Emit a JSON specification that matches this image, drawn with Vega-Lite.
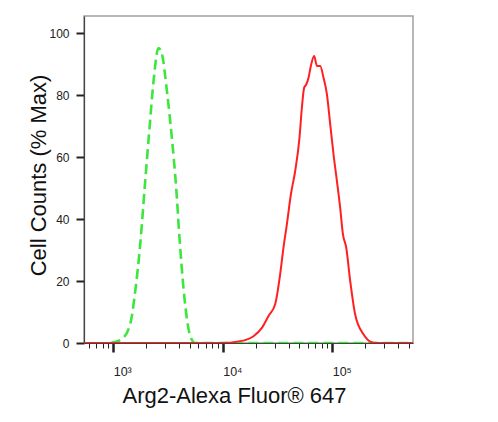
{
  "$schema": "https://vega.github.io/schema/vega-lite/v6.json",
  "description": "Flow cytometry histogram: Arg2-Alexa Fluor 647 stained cells (red) vs isotype control (green dashed).",
  "width": 329,
  "height": 327,
  "autosize": {"type": "none"},
  "padding": {"left": 84, "top": 16, "right": 85, "bottom": 79},
  "background": "white",
  "config": {
    "view": {"stroke": "#a0a0a0", "strokeWidth": 1.5},
    "axis": {"grid": false}
  },
  "datasets": {
    "control": [
      {"intensity": 950, "percent_max": 0},
      {"intensity": 1200, "percent_max": 1.3},
      {"intensity": 1430, "percent_max": 6.1},
      {"intensity": 1590, "percent_max": 16.8},
      {"intensity": 1765, "percent_max": 31.9},
      {"intensity": 1960, "percent_max": 52.3},
      {"intensity": 2147, "percent_max": 69.4},
      {"intensity": 2335, "percent_max": 84.5},
      {"intensity": 2594, "percent_max": 95.2},
      {"intensity": 2787, "percent_max": 93.2},
      {"intensity": 3093, "percent_max": 81.3},
      {"intensity": 3435, "percent_max": 66.1},
      {"intensity": 3760, "percent_max": 50},
      {"intensity": 4030, "percent_max": 33.9},
      {"intensity": 4384, "percent_max": 17.7},
      {"intensity": 5050, "percent_max": 2.3},
      {"intensity": 5610, "percent_max": 0},
      {"intensity": 547000, "percent_max": 0}
    ],
    "arg2": [
      {"intensity": 543, "percent_max": 0},
      {"intensity": 9480, "percent_max": 0},
      {"intensity": 14450, "percent_max": 0.6},
      {"intensity": 19110, "percent_max": 2.2},
      {"intensity": 22790, "percent_max": 4.9},
      {"intensity": 26190, "percent_max": 8.7},
      {"intensity": 30130, "percent_max": 12.5},
      {"intensity": 33480, "percent_max": 22.2},
      {"intensity": 35900, "percent_max": 30.8},
      {"intensity": 38550, "percent_max": 38.3},
      {"intensity": 41970, "percent_max": 48},
      {"intensity": 45920, "percent_max": 55.5},
      {"intensity": 50260, "percent_max": 66.2},
      {"intensity": 52850, "percent_max": 75.9},
      {"intensity": 55460, "percent_max": 82.4},
      {"intensity": 57890, "percent_max": 83.4},
      {"intensity": 60800, "percent_max": 85.6},
      {"intensity": 63840, "percent_max": 89.4},
      {"intensity": 68500, "percent_max": 92.6},
      {"intensity": 72450, "percent_max": 89.4},
      {"intensity": 77650, "percent_max": 89.4},
      {"intensity": 83330, "percent_max": 85.6},
      {"intensity": 89520, "percent_max": 80.2},
      {"intensity": 95950, "percent_max": 70.5},
      {"intensity": 102800, "percent_max": 60.9},
      {"intensity": 110400, "percent_max": 52.3},
      {"intensity": 118300, "percent_max": 43.6},
      {"intensity": 125300, "percent_max": 35.1},
      {"intensity": 134300, "percent_max": 30.8},
      {"intensity": 146000, "percent_max": 20},
      {"intensity": 162100, "percent_max": 9.2},
      {"intensity": 193100, "percent_max": 2.8},
      {"intensity": 238400, "percent_max": 0.1},
      {"intensity": 293700, "percent_max": 0},
      {"intensity": 547000, "percent_max": 0}
    ]
  },
  "layer": [
    {
      "data": {"name": "control"},
      "mark": {"type": "line", "color": "#3de63d", "strokeWidth": 2.6, "strokeDash": [10, 5], "interpolate": "monotone", "clip": true},
      "encoding": {
        "x": {
          "field": "intensity",
          "type": "quantitative",
          "scale": {"type": "log", "domain": [541, 547000], "nice": false},
          "axis": {
            "title": "Arg2-Alexa Fluor® 647",
            "titleFont": "Liberation Sans",
            "titleFontSize": 22,
            "titleFontWeight": "normal",
            "titleColor": "#111",
            "titleX": 150,
            "titleY": 59,
            "titleAlign": "center",
            "titleBaseline": "alphabetic",
            "values": [600, 700, 800, 900, 1000, 2000, 3000, 4000, 5000, 6000, 7000, 8000, 9000, 10000, 20000, 30000, 40000, 50000, 60000, 70000, 80000, 90000, 100000, 200000, 300000, 400000, 500000],
            "labelExpr": "datum.value == 1000 ? '10³' : datum.value == 10000 ? '10⁴' : datum.value == 100000 ? '10⁵' : ''",
            "labelFont": "Liberation Sans Narrow, Arial Narrow, Liberation Sans",
            "labelFontSize": 12.5,
            "labelColor": "#222",
            "labelAlign": "left",
            "labelDx": 1,
            "labelBaseline": "alphabetic",
            "labelPadding": 23,
            "labelOverlap": false,
            "labelFlush": false,
            "domainColor": "#444",
            "domainWidth": 1.2,
            "tickColor": "#222",
            "tickSize": {"condition": {"test": "datum.value == 1000 || datum.value == 10000 || datum.value == 100000", "value": 9}, "value": 5},
            "tickWidth": {"condition": {"test": "datum.value == 1000 || datum.value == 10000 || datum.value == 100000", "value": 2.5}, "value": 1}
          }
        },
        "y": {
          "field": "percent_max",
          "type": "quantitative",
          "scale": {"domain": [0, 105.5], "nice": false, "zero": false},
          "axis": {
            "title": "Cell Counts (% Max)",
            "titleFont": "Liberation Sans",
            "titleFontSize": 22,
            "titleFontWeight": "normal",
            "titleColor": "#111",
            "titleX": -39,
            "titleY": 159,
            "titleAlign": "center",
            "titleBaseline": "alphabetic",
            "values": [0, 5, 10, 15, 20, 25, 30, 35, 40, 45, 50, 55, 60, 65, 70, 75, 80, 85, 90, 95, 100],
            "labelExpr": "datum.value % 20 === 0 ? datum.label : ''",
            "labelFont": "Liberation Sans Narrow, Arial Narrow, Liberation Sans",
            "labelFontSize": 12,
            "labelColor": "#222",
            "labelPadding": 7,
            "labelOverlap": false,
            "labelFlush": false,
            "domainColor": "#444",
            "domainWidth": 1.2,
            "tickColor": "#222",
            "tickSize": {"condition": {"test": "datum.value % 20 === 0", "value": 8}, "value": 4},
            "tickWidth": {"condition": {"test": "datum.value % 20 === 0", "value": 2}, "value": 1}
          }
        }
      }
    },
    {
      "data": {"name": "arg2"},
      "mark": {"type": "line", "color": "#ff2020", "strokeWidth": 2, "interpolate": "monotone", "clip": true},
      "encoding": {
        "x": {"field": "intensity", "type": "quantitative"},
        "y": {"field": "percent_max", "type": "quantitative"}
      }
    }
  ]
}
